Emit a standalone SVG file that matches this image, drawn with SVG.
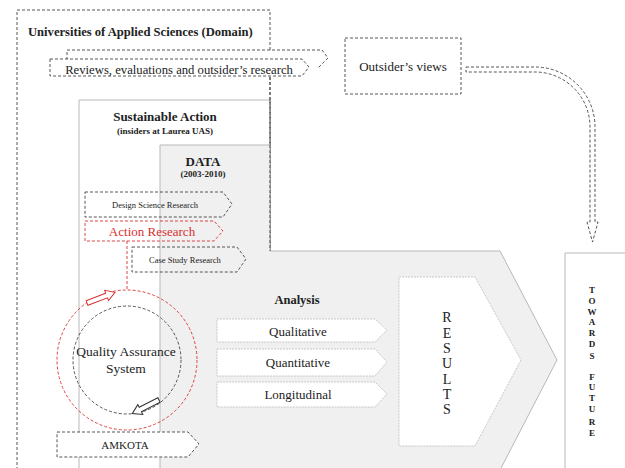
<svg xmlns="http://www.w3.org/2000/svg" width="625" height="468" viewBox="0 0 625 468">
<defs>
<style>
text{font-family:"Liberation Serif","Times New Roman",serif;fill:#222;}
.b{font-weight:bold;}
.dash{fill:#fff;stroke:#444;stroke-width:0.9;stroke-dasharray:3,2;}
.dasht{fill:none;stroke:#444;stroke-width:0.9;stroke-dasharray:3,2;}
.dashn{fill:none;stroke:#444;stroke-width:0.9;stroke-dasharray:3,2;}
.red{fill:none;stroke:#d83030;stroke-width:0.9;stroke-dasharray:3,2;}
.redn{fill:none;stroke:#d83030;stroke-width:0.9;stroke-dasharray:3,2;}
.panel{stroke:#b8b8b8;stroke-width:1;}
.light{fill:#fff;stroke:#bdbdbd;stroke-width:0.8;stroke-dasharray:2,1;}
</style>
</defs>
<rect width="625" height="468" fill="#fff"/>

<g id="domain">
<path class="dashn" d="M17,470 V10 H270 V251"/>
<text class="b" x="28" y="36" font-size="12.6">Universities of Applied Sciences (Domain)</text>
</g>

<g id="sustainable-action">
<path class="panel" fill="#fff" d="M79,470 V100 H270 V251"/>
<path class="dashn" d="M270,77 V251"/>
<text class="b" x="165" y="121" font-size="13" text-anchor="middle">Sustainable Action</text>
<text class="b" x="165" y="134" font-size="9" text-anchor="middle">(insiders at Laurea UAS)</text>
</g>

<g id="data-panel">
<path class="panel" fill="#f0f0f0" d="M160,470 V145 H270 V251 H500 L557,360 L500,470"/>
<path class="dashn" d="M270,100 V251"/>
<text class="b" x="203" y="166" font-size="13" text-anchor="middle">DATA</text>
<text class="b" x="203" y="177" font-size="9" text-anchor="middle">(2003-2010)</text>
</g>

<g id="reviews">
<path class="dash" d="M67,60 V50 H322 L328,58 L318,68"/>
<path class="dash" d="M50,59 H302 L309,67 L302,76 H50 Z"/>
<text x="179" y="74" font-size="12.7" text-anchor="middle">Reviews, evaluations and outsider’s research</text>
</g>

<g id="outsiders-views">
<rect class="dash" x="345" y="38" width="116" height="56"/>
<text x="403" y="71" font-size="13" text-anchor="middle">Outsider’s views</text>
</g>

<g id="towards-future">
<path class="panel" fill="#fff" d="M565,470 V253 H630"/>
<g class="b" font-size="9" text-anchor="middle">
<text x="592" y="293">T</text>
<text x="592" y="304">O</text>
<text x="592" y="315">W</text>
<text x="592" y="325">A</text>
<text x="592" y="336">R</text>
<text x="592" y="347">D</text>
<text x="592" y="359">S</text>
<text x="592" y="380">F</text>
<text x="592" y="390">U</text>
<text x="592" y="401">T</text>
<text x="592" y="412">U</text>
<text x="592" y="425">R</text>
<text x="592" y="436">E</text>
</g>
</g>

<g id="design-science-research">
<path class="dasht" d="M85,192 H223 L232,204 L223,217 H85 Z"/>
<text x="155" y="208" font-size="8.5" text-anchor="middle">Design Science Research</text>
</g>

<g id="action-research">
<path class="red" d="M85,221 H214 L223,231 L214,241 H85 Z"/>
<text x="152" y="236" font-size="13" text-anchor="middle" style="fill:#d83030">Action Research</text>
</g>

<g id="case-study-research">
<path class="dasht" d="M132,247 H237 L246,259 L237,272 H132 Z"/>
<text x="185" y="263" font-size="8.5" text-anchor="middle">Case Study Research</text>
</g>

<g id="quality-assurance">
<circle class="redn" cx="127" cy="360" r="70"/>
<circle class="dashn" cx="127" cy="360" r="54"/>
<text x="126" y="356" font-size="13.5" text-anchor="middle">Quality Assurance</text>
<text x="126" y="373" font-size="13.5" text-anchor="middle">System</text>
<path fill="#fff" stroke="#d83030" stroke-width="1" d="M0,-2.5 H21 V-5.5 L30,0 L21,5.5 V2.5 H0 Z" transform="translate(87,303) rotate(-21)"/>
<path fill="#fff" stroke="#333" stroke-width="1" d="M0,-2.5 H21 V-5.5 L30,0 L21,5.5 V2.5 H0 Z" transform="translate(159,400) rotate(153)"/>
</g>

<g id="amkota">
<path class="dash" d="M57,432 H188 L199,444 L188,457 H57 Z"/>
<text x="125" y="449" font-size="11" text-anchor="middle">AMKOTA</text>
</g>

<g id="analysis">
<text class="b" x="297" y="304" font-size="12.5" text-anchor="middle">Analysis</text>
<path class="light" d="M217,319 H375 L387,330 L375,342 H217 Z"/>
<text x="298" y="336" font-size="13" text-anchor="middle">Qualitative</text>
<path class="light" d="M217,349 H375 L387,362 L375,376 H217 Z"/>
<text x="298" y="367" font-size="13" text-anchor="middle">Quantitative</text>
<path class="light" d="M217,382 H375 L387,394 L375,407 H217 Z"/>
<text x="298" y="399" font-size="13" text-anchor="middle">Longitudinal</text>
</g>

<g id="results">
<path class="light" d="M399,277 H475 L521,360 L475,446 H399 Z"/>
<g font-size="14" text-anchor="middle">
<text x="447" y="322">R</text>
<text x="447" y="338">E</text>
<text x="447" y="353">S</text>
<text x="447" y="368">U</text>
<text x="447" y="384">L</text>
<text x="447" y="399">T</text>
<text x="447" y="414">S</text>
</g>
</g>

<g id="connectors">
<path class="redn" d="M127,241 V290"/>
<path class="dashn" d="M466,67 H535 A60,60 0 0 1 595,127 V222 H598 L592.5,242 L587,222 H590 V127 A55,55 0 0 0 535,72 H466 Z"/>
</g>
</svg>
